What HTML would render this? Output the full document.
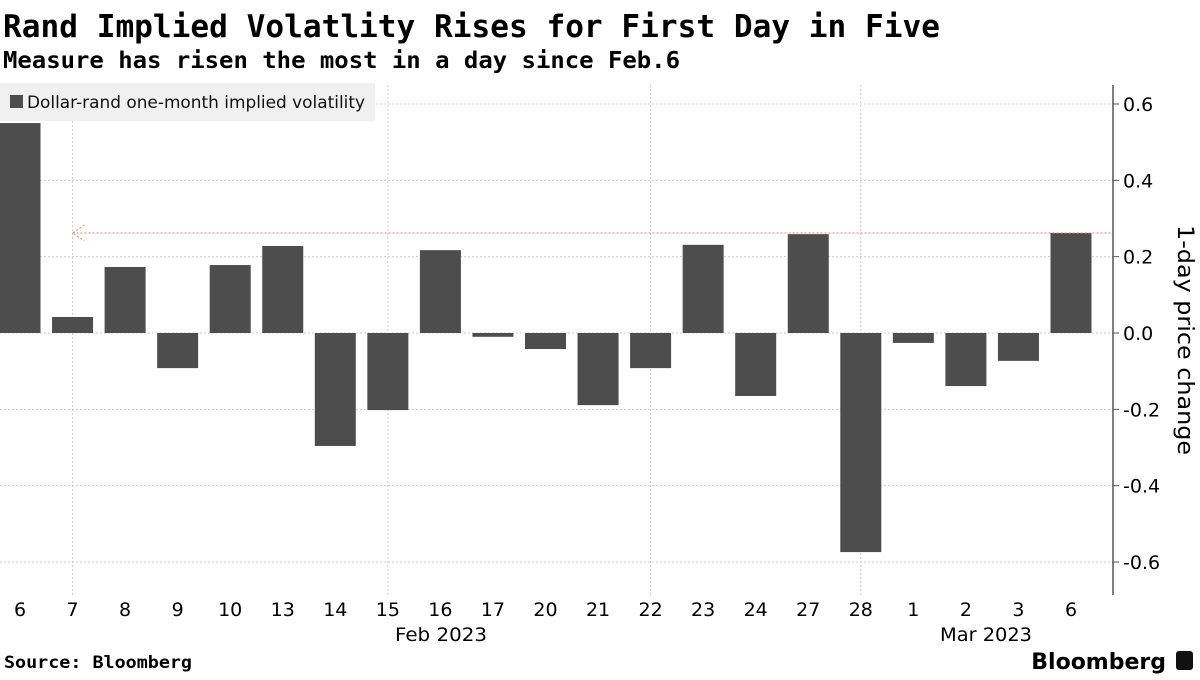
<!DOCTYPE html>
<html><head><meta charset="utf-8"><style>
body{margin:0;background:#fff;font-family:"Liberation Sans","DejaVu Sans",sans-serif;}
svg text{font-family:"DejaVu Sans","Liberation Sans",sans-serif;}
svg text.mono{font-family:"DejaVu Sans Mono","Liberation Mono",monospace;}
svg text.lib{font-family:"Liberation Sans",sans-serif;}
</style></head><body>
<svg width="1200" height="675" xmlns="http://www.w3.org/2000/svg">
<text class="mono" x="3" y="37" font-size="31" font-weight="bold" fill="#000" textLength="937" lengthAdjust="spacingAndGlyphs">Rand Implied Volatlity Rises for First Day in Five</text>
<text class="mono" x="3" y="68" font-size="23" font-weight="bold" fill="#000" textLength="677" lengthAdjust="spacingAndGlyphs">Measure has risen the most in a day since Feb.6</text>
<g id="grid"></g>
<g id="bars"></g>
<g id="axis"></g>
<rect x="0" y="83" width="375" height="38" fill="#f0f0f0"/>
<rect x="10" y="95" width="13" height="13" fill="#4d4d4d"/>
<text x="27" y="108" font-size="17" fill="#111" textLength="338" lengthAdjust="spacingAndGlyphs">Dollar-rand one-month implied volatility</text>
<text transform="translate(1178,340) rotate(90)" text-anchor="middle" font-size="22" fill="#000" textLength="230" lengthAdjust="spacingAndGlyphs">1-day price change</text>
<text x="441" y="641" text-anchor="middle" font-size="19" fill="#000" textLength="92" lengthAdjust="spacingAndGlyphs">Feb 2023</text>
<text x="986" y="641" text-anchor="middle" font-size="19" fill="#000" textLength="92" lengthAdjust="spacingAndGlyphs">Mar 2023</text>
<text class="mono" x="4" y="668" font-size="17" font-weight="bold" fill="#000" textLength="188" lengthAdjust="spacingAndGlyphs">Source: Bloomberg</text>
<text x="1166" y="669" text-anchor="end" font-size="22" font-weight="bold" fill="#000">Bloomberg</text>
<rect x="1176" y="651" width="17" height="19" rx="3" fill="#111"/>
</svg>
<script>
const categories=["6","7","8","9","10","13","14","15","16","17","20","21","22","23","24","27","28","1","2","3","6"];
const values=[0.55,0.042,0.173,-0.092,0.178,0.228,-0.296,-0.202,0.217,-0.01,-0.042,-0.189,-0.092,0.231,-0.165,0.259,-0.574,-0.026,-0.139,-0.073,0.262];
const yTicks=[0.6,0.4,0.2,0.0,-0.2,-0.4,-0.6];
const gridCats=[1,7,12,16];
const NS="http://www.w3.org/2000/svg";
const x=i=>20+i*52.55;
const y=v=>333-v*381.7;
const bw=41, axX=1113;
function mk(t,a,p){const e=document.createElementNS(NS,t);for(const k in a)e.setAttribute(k,a[k]);p.appendChild(e);return e;}
const grid=document.getElementById('grid'),bars=document.getElementById('bars'),axis=document.getElementById('axis');
yTicks.forEach(t=>{
  const l=mk('line',{x1:0,x2:axX,y1:y(t),y2:y(t),stroke:'#ccc','stroke-dasharray':'2,2'},grid);
  
  
  const tk=mk('line',{x1:axX,x2:axX+6,y1:y(t),y2:y(t),stroke:'#555'},axis);
  
  
  const tx=mk('text',{x:axX+10,y:y(t)+7,'font-size':19,fill:'#000'},axis);
  tx.textContent=t.toFixed(1);
  
  
});
gridCats.forEach(i=>{
  const l=mk('line',{x1:x(i),x2:x(i),y1:85,y2:595,stroke:'#ccc','stroke-dasharray':'2,2'},grid);
  
  
});
const al=mk('line',{x1:axX,x2:axX,y1:85,y2:595,stroke:'#555','stroke-width':1.5},axis);


values.forEach((v,i)=>{
  const r=mk('rect',{x:Math.max(0,x(i)-bw/2),y:Math.min(y(v),y(0)),width:x(i)+bw/2-Math.max(0,x(i)-bw/2),height:Math.abs(y(v)-y(0)),fill:'#4d4d4d'},bars);
  
  
});
categories.forEach((c,i)=>{
  const t=mk('text',{x:x(i),y:616,'text-anchor':'middle','font-size':19,fill:'#000'},axis);
  t.textContent=c;
  
  
});
const last=values[values.length-1];
const ref=mk('line',{x1:x(1),x2:axX,y1:y(last),y2:y(last),stroke:'#e08080','stroke-dasharray':'2,2'},bars);


const ah=mk('polyline',{points:`${x(1)+12},${y(last)-8} ${x(1)},${y(last)} ${x(1)+12},${y(last)+8}`,fill:'none',stroke:'#e08080','stroke-dasharray':'2,2'},bars);


</script>
</body></html>
